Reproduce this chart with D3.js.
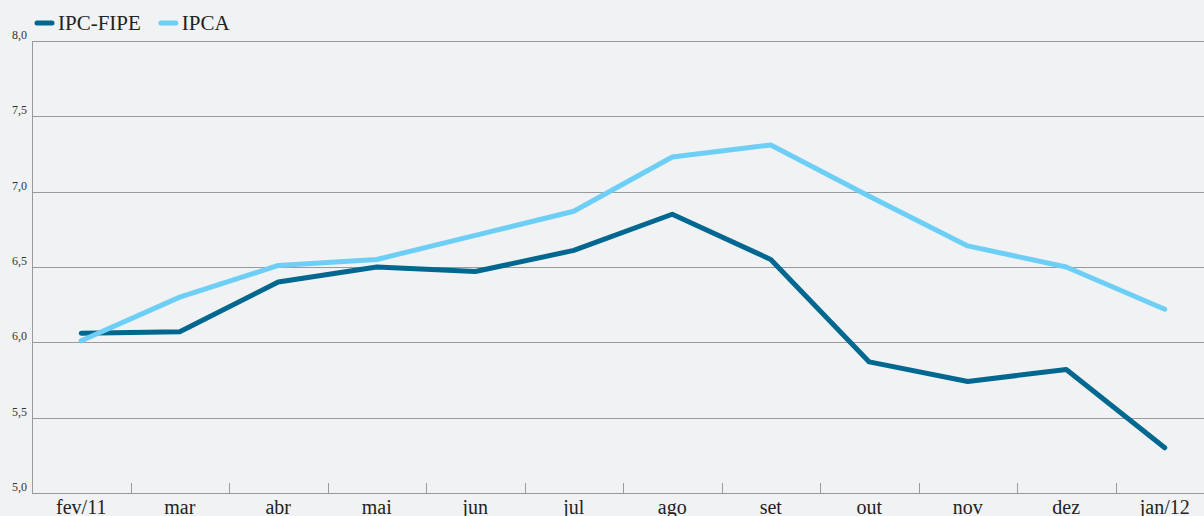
<!DOCTYPE html>
<html>
<head>
<meta charset="utf-8">
<script src="https://cdn.jsdelivr.net/npm/d3@7"></script>
<style>
  body { margin: 0; background: #f1f2f4; }
  svg { display: block; font-family: "Liberation Serif", "DejaVu Serif", serif; }
</style>
</head>
<body>
<div id="chart"></div>
<script>
let months = ["fev/11", "mar", "abr", "mai", "jun", "jul", "ago", "set", "out", "nov", "dez", "jan/12"];
let ipcFipe = [6.06, 6.07, 6.40, 6.50, 6.47, 6.61, 6.85, 6.55, 5.87, 5.74, 5.82, 5.30];
let ipca = [6.01, 6.30, 6.51, 6.55, 6.71, 6.87, 7.23, 7.31, 6.97, 6.64, 6.50, 6.22];
let yTicks = [5.0, 5.5, 6.0, 6.5, 7.0, 7.5, 8.0];

let series = [
    {name: "IPC-FIPE", values: ipcFipe, color: "#006890"},
    {name: "IPCA", values: ipca, color: "#6dcff6"}
];

let W = 1204, H = 516;
let margin = {top: 41, right: -10, bottom: 23, left: 32};
let width = W - margin.left - margin.right,
    height = H - margin.top - margin.bottom;

let svg = d3.select("#chart")
            .append("svg")
            .attr("width", W)
            .attr("height", H);

svg.append("rect")
   .attr("width", W).attr("height", H)
   .attr("fill", "#f1f2f4");

let g = svg.append("g")
           .attr("transform", "translate(" + margin.left + "," + margin.top + ")");

let x = d3.scaleBand()
          .domain(months)
          .range([0, width]);

let y = d3.scaleLinear()
          .domain([5, 8])
          .range([height, 0]);

// grid lines
g.append("g")
 .selectAll("line")
 .data(yTicks)
 .enter()
 .append("line")
 .attr("x1", 0)
 .attr("x2", W - margin.left)
 .attr("y1", d => Math.round(y(d)) + 0.5)
 .attr("y2", d => Math.round(y(d)) + 0.5)
 .attr("stroke", "#9a9a9c")
 .attr("stroke-width", 1);

// y labels
g.append("g")
 .selectAll("text")
 .data(yTicks)
 .enter()
 .append("text")
 .attr("x", -5)
 .attr("y", d => y(d) - 2)
 .attr("text-anchor", "end")
 .attr("font-size", 12)
 .attr("fill", "#333")
 .text(d => d3.format(".1f")(d).replace(".", ","));

// left axis line
g.append("line")
 .attr("x1", 0.5).attr("x2", 0.5)
 .attr("y1", 0).attr("y2", height)
 .attr("stroke", "#9a9a9c");

// x tick marks between bands
g.append("g")
 .selectAll("line")
 .data(months.slice(1))
 .enter()
 .append("line")
 .attr("x1", d => Math.round(x(d)) + 0.5)
 .attr("x2", d => Math.round(x(d)) + 0.5)
 .attr("y1", height - 10)
 .attr("y2", height)
 .attr("stroke", "#9a9a9c");

// x labels (cut at the bottom edge, as in the original)
g.append("g")
 .selectAll("text")
 .data(months)
 .enter()
 .append("text")
 .attr("x", d => x(d) + x.bandwidth() / 2)
 .attr("y", height + 21)
 .attr("text-anchor", "middle")
 .attr("font-size", 20)
 .attr("fill", "#222")
 .text(d => d);

// lines
let line = d3.line()
             .x((d, i) => x(months[i]) + x.bandwidth() / 2)
             .y(d => y(d));

series.forEach(function(s) {
    g.append("path")
     .datum(s.values)
     .attr("fill", "none")
     .attr("stroke", s.color)
     .attr("stroke-width", 5)
     .attr("stroke-linecap", "round")
     .attr("stroke-linejoin", "round")
     .attr("d", line);
});

// legend
let legend = svg.append("g");
let lx = 35;
series.forEach(function(s) {
    legend.append("line")
          .attr("x1", lx + 2).attr("x2", lx + 17)
          .attr("y1", 23).attr("y2", 23)
          .attr("stroke", s.color)
          .attr("stroke-width", 5)
          .attr("stroke-linecap", "round");
    let t = legend.append("text")
          .attr("x", lx + 23)
          .attr("y", 30)
          .attr("font-size", 21)
          .attr("fill", "#222")
          .text(s.name);
    lx += 23 + t.node().getComputedTextLength() + 18;
});
</script>
</body>
</html>
